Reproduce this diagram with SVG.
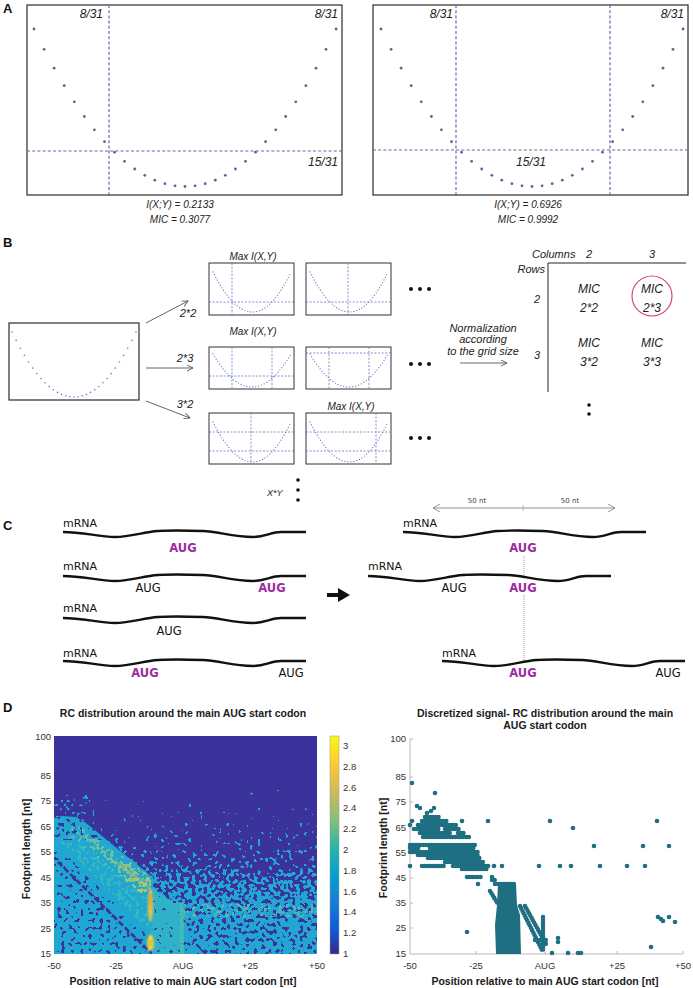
<svg xmlns="http://www.w3.org/2000/svg" width="693" height="988" viewBox="0 0 693 988">
<style>
.box{fill:#fff;stroke:#2b2b2b;stroke-width:1.2}
.sbox{fill:#fff;stroke:#333;stroke-width:1}
.dA circle{fill:#50689e}
.dB circle{fill:#6b7ac4}
.dashA{stroke:#7c5fa4;stroke-width:1.2;stroke-dasharray:3 2.2;fill:none}
.dashB{stroke:#6a6fc0;stroke-width:0.8;stroke-dasharray:2 1.6;fill:none}
.pb{fill:none;stroke:#6d7ccc;stroke-width:1.3;stroke-linecap:round;stroke-dasharray:0 3}
.it{font-family:"Liberation Sans",Arial,sans-serif;font-style:italic;fill:#222}
.pl{font-family:"Liberation Sans",Arial,sans-serif;font-weight:bold;font-size:13px;fill:#111}
.arr{stroke:#555;stroke-width:0.9;fill:none;marker-end:url(#ah)}
.wave{fill:none;stroke:#111;stroke-width:2.3}
.cm{font-family:"DejaVu Sans",sans-serif;font-size:11px;fill:#111}
.aug{font-family:"DejaVu Sans",sans-serif;font-size:11.5px;fill:#111}
.pu{font-weight:bold;fill:#9d2d9f}
.tk{font-family:"Liberation Sans",Arial,sans-serif;font-size:9.5px;fill:#333}
.ttl{font-family:"Liberation Sans",Arial,sans-serif;font-weight:bold;font-size:10.5px;fill:#1a1a1a}
.sd circle{fill:#1f6f82}
.sb{stroke:#1f6f82;stroke-width:4.6;stroke-linecap:round;stroke-dasharray:0 2.7;fill:none}
.dot{fill:#111}
</style>
<defs>
<marker id="ah" markerWidth="8" markerHeight="8" refX="6" refY="3" orient="auto" markerUnits="userSpaceOnUse">
<path d="M0,0 L6,3 L0,6" fill="none" stroke="#555" stroke-width="0.9"/>
</marker>
<marker id="ah2" markerWidth="10" markerHeight="10" refX="7" refY="4" orient="auto-start-reverse" markerUnits="userSpaceOnUse">
<path d="M0,0 L7,4 L0,8" fill="none" stroke="#777" stroke-width="0.8"/>
</marker>
<g id="parab" class="dA">
<circle cx="34" cy="29" r="1.4"/><circle cx="44.1" cy="49.3" r="1.4"/><circle cx="54.1" cy="68.2" r="1.4"/><circle cx="64.2" cy="85.7" r="1.4"/><circle cx="74.3" cy="101.8" r="1.4"/><circle cx="84.4" cy="116.5" r="1.4"/><circle cx="94.4" cy="129.8" r="1.4"/><circle cx="104.5" cy="141.7" r="1.4"/><circle cx="114.6" cy="152.2" r="1.4"/><circle cx="124.6" cy="161.3" r="1.4"/><circle cx="134.7" cy="169" r="1.4"/><circle cx="144.8" cy="175.3" r="1.4"/><circle cx="154.8" cy="180.2" r="1.4"/><circle cx="164.9" cy="183.7" r="1.4"/><circle cx="175" cy="185.8" r="1.4"/><circle cx="185" cy="186.5" r="1.4"/><circle cx="195.1" cy="185.8" r="1.4"/><circle cx="205.2" cy="183.7" r="1.4"/><circle cx="215.3" cy="180.2" r="1.4"/><circle cx="225.3" cy="175.3" r="1.4"/><circle cx="235.4" cy="169" r="1.4"/><circle cx="245.5" cy="161.3" r="1.4"/><circle cx="255.5" cy="152.2" r="1.4"/><circle cx="265.6" cy="141.7" r="1.4"/><circle cx="275.7" cy="129.8" r="1.4"/><circle cx="285.7" cy="116.5" r="1.4"/><circle cx="295.8" cy="101.8" r="1.4"/><circle cx="305.9" cy="85.7" r="1.4"/><circle cx="316" cy="68.2" r="1.4"/><circle cx="326" cy="49.3" r="1.4"/><circle cx="336.1" cy="29" r="1.4"/>
</g>
<path id="pb52" class="pb" d="M4,9 Q44,89 82,9"/>
<path id="pb42" class="pb" d="M4,7 Q43,73 82,7"/>
<path id="wave" class="wave" d="M0,0 C20,0 36,5 52,5 C68,5 80,0 95,-1 C110,-2 125,-1.5 140,-1 C155,-0.5 170,5 190,5 C202,5 208,0 218,0 L243,0"/>
<linearGradient id="parula" x1="0" y1="1" x2="0" y2="0">
<stop offset="0" stop-color="#352a87"/><stop offset="0.12" stop-color="#0f5cdd"/><stop offset="0.25" stop-color="#1481d6"/><stop offset="0.38" stop-color="#06a4ca"/><stop offset="0.5" stop-color="#2eb7a4"/><stop offset="0.62" stop-color="#87bf77"/><stop offset="0.75" stop-color="#d1bb59"/><stop offset="0.87" stop-color="#fec832"/><stop offset="1" stop-color="#f9fb0e"/>
</linearGradient>
<linearGradient id="dens" gradientUnits="userSpaceOnUse" x1="0" y1="736" x2="0" y2="954">
<stop offset="0" stop-color="#22a6d2" stop-opacity="0"/>
<stop offset="0.2" stop-color="#22a6d2" stop-opacity="0.05"/>
<stop offset="0.25" stop-color="#22a6d2" stop-opacity="0.23"/>
<stop offset="0.36" stop-color="#22a6d2" stop-opacity="0.28"/>
<stop offset="0.48" stop-color="#22a6d2" stop-opacity="0.34"/>
<stop offset="0.59" stop-color="#22a6d2" stop-opacity="0.41"/>
<stop offset="0.68" stop-color="#22a6d2" stop-opacity="0.5"/>
<stop offset="0.78" stop-color="#22a6d2" stop-opacity="0.56"/>
<stop offset="1" stop-color="#22a6d2" stop-opacity="0.58"/>
</linearGradient>
<linearGradient id="bandG" gradientUnits="userSpaceOnUse" x1="60" y1="828" x2="153" y2="894">
<stop offset="0" stop-color="#4cbab4" stop-opacity="0.46"/>
<stop offset="0.6" stop-color="#7ac38c" stop-opacity="0.46"/>
<stop offset="1" stop-color="#b8c662" stop-opacity="0.5"/>
</linearGradient>
<filter id="nz1" filterUnits="userSpaceOnUse" x="54" y="736" width="263" height="218" color-interpolation-filters="sRGB">
<feTurbulence type="fractalNoise" baseFrequency="0.26" numOctaves="1" seed="7" result="n"/>
<feColorMatrix in="n" type="matrix" values="0 0 0 0 0  0 0 0 0 0  0 0 0 0 0  1 0 0 0 0" result="na"/>
<feComposite in="na" in2="SourceAlpha" operator="arithmetic" k2="0.5" k3="0.5" result="s"/>
<feComponentTransfer in="s" result="t"><feFuncA type="discrete" tableValues="0 1"/></feComponentTransfer>
<feColorMatrix in="SourceGraphic" type="matrix" values="1 0 0 0 0  0 1 0 0 0  0 0 1 0 0  0 0 0 0 1" result="c"/>
<feComposite in="c" in2="t" operator="in"/>
</filter>
<filter id="nz2" filterUnits="userSpaceOnUse" x="54" y="736" width="263" height="218" color-interpolation-filters="sRGB">
<feTurbulence type="fractalNoise" baseFrequency="0.26" numOctaves="1" seed="23" result="n"/>
<feColorMatrix in="n" type="matrix" values="0 0 0 0 0  0 0 0 0 0  0 0 0 0 0  1 0 0 0 0" result="na"/>
<feComposite in="na" in2="SourceAlpha" operator="arithmetic" k2="0.5" k3="0.5" result="s"/>
<feComponentTransfer in="s" result="t"><feFuncA type="discrete" tableValues="0 1"/></feComponentTransfer>
<feColorMatrix in="SourceGraphic" type="matrix" values="1 0 0 0 0  0 1 0 0 0  0 0 1 0 0  0 0 0 0 1" result="c"/>
<feComposite in="c" in2="t" operator="in"/>
</filter>
<filter id="nz3" filterUnits="userSpaceOnUse" x="54" y="736" width="263" height="218" color-interpolation-filters="sRGB">
<feTurbulence type="fractalNoise" baseFrequency="0.28" numOctaves="1" seed="51" result="n"/>
<feColorMatrix in="n" type="matrix" values="0 0 0 0 0  0 0 0 0 0  0 0 0 0 0  1 0 0 0 0" result="na"/>
<feComposite in="na" in2="SourceAlpha" operator="arithmetic" k2="0.5" k3="0.5" result="s"/>
<feComponentTransfer in="s" result="t"><feFuncA type="discrete" tableValues="0 1"/></feComponentTransfer>
<feColorMatrix in="SourceGraphic" type="matrix" values="1 0 0 0 0  0 1 0 0 0  0 0 1 0 0  0 0 0 0 1" result="c"/>
<feComposite in="c" in2="t" operator="in"/>
</filter>
<filter id="bl" x="-50%" y="-50%" width="200%" height="200%"><feGaussianBlur stdDeviation="0.8"/></filter>
</defs>
<rect width="693" height="988" fill="#fff"/>

<!-- Panel A -->
<g id="panelA">
<text class="pl" x="3" y="13">A</text>
<g id="A-left">
<rect class="box" x="27" y="5" width="315" height="190"/>
<use href="#parab"/>
<line class="dashA" x1="109" y1="5" x2="109" y2="195"/>
<line class="dashA" x1="27" y1="151" x2="342" y2="151"/>
<text class="it" font-size="12" x="103" y="18" text-anchor="end">8/31</text>
<text class="it" font-size="12" x="338" y="18" text-anchor="end">8/31</text>
<text class="it" font-size="12" x="338" y="166" text-anchor="end">15/31</text>
<text class="it" font-size="10" x="180" y="208" text-anchor="middle">I(X;Y) = 0.2133</text>
<text class="it" font-size="10" x="180" y="223" text-anchor="middle">MIC = 0.3077</text>
</g>
<g id="A-right">
<rect class="box" x="373" y="5" width="315" height="190"/>
<use href="#parab" transform="translate(347,0)"/>
<line class="dashA" x1="456" y1="5" x2="456" y2="195"/>
<line class="dashA" x1="610" y1="5" x2="610" y2="195"/>
<line class="dashA" x1="373" y1="150" x2="688" y2="150"/>
<text class="it" font-size="12" x="453" y="18" text-anchor="end">8/31</text>
<text class="it" font-size="12" x="684" y="18" text-anchor="end">8/31</text>
<text class="it" font-size="12" x="531" y="166" text-anchor="middle">15/31</text>
<text class="it" font-size="10" x="528" y="208" text-anchor="middle">I(X;Y) = 0.6926</text>
<text class="it" font-size="10" x="528" y="223" text-anchor="middle">MIC = 0.9992</text>
</g>
</g>

<!-- Panel B -->
<g id="panelB">
<text class="pl" x="3" y="247">B</text>
<g id="B-source">
<rect class="box" x="9" y="323" width="130" height="77"/>
<g class="dB">
<circle cx="12" cy="332" r="0.8"/><circle cx="16.1" cy="340.4" r="0.8"/><circle cx="20.3" cy="348.2" r="0.8"/><circle cx="24.4" cy="355.4" r="0.8"/><circle cx="28.5" cy="362" r="0.8"/><circle cx="32.7" cy="368.1" r="0.8"/><circle cx="36.8" cy="373.6" r="0.8"/><circle cx="40.9" cy="378.5" r="0.8"/><circle cx="45.1" cy="382.8" r="0.8"/><circle cx="49.2" cy="386.6" r="0.8"/><circle cx="53.3" cy="389.8" r="0.8"/><circle cx="57.5" cy="392.4" r="0.8"/><circle cx="61.6" cy="394.4" r="0.8"/><circle cx="65.7" cy="395.8" r="0.8"/><circle cx="69.9" cy="396.7" r="0.8"/><circle cx="74" cy="397" r="0.8"/><circle cx="78.1" cy="396.7" r="0.8"/><circle cx="82.3" cy="395.8" r="0.8"/><circle cx="86.4" cy="394.4" r="0.8"/><circle cx="90.5" cy="392.4" r="0.8"/><circle cx="94.7" cy="389.8" r="0.8"/><circle cx="98.8" cy="386.6" r="0.8"/><circle cx="102.9" cy="382.8" r="0.8"/><circle cx="107.1" cy="378.5" r="0.8"/><circle cx="111.2" cy="373.6" r="0.8"/><circle cx="115.3" cy="368.1" r="0.8"/><circle cx="119.5" cy="362" r="0.8"/><circle cx="123.6" cy="355.4" r="0.8"/><circle cx="127.7" cy="348.2" r="0.8"/><circle cx="131.9" cy="340.4" r="0.8"/><circle cx="136" cy="332" r="0.8"/>
</g>
</g>
<g id="B-connectors">
<line class="arr" x1="146" y1="323" x2="188" y2="301"/>
<line class="arr" x1="146" y1="368" x2="193" y2="368"/>
<line class="arr" x1="146" y1="401" x2="190" y2="418"/>
<line class="arr" x1="460" y1="363" x2="507" y2="363"/>
</g>
<text class="it" font-size="11" x="188" y="317" text-anchor="middle">2*2</text>
<text class="it" font-size="11" x="185" y="362" text-anchor="middle">2*3</text>
<text class="it" font-size="11" x="185" y="408" text-anchor="middle">3*2</text>
<g id="B-grid-r1c1">
<rect class="sbox" x="209" y="263" width="85" height="52"/>
<use href="#pb52" x="209" y="263"/>
<line class="dashB" x1="232" y1="263" x2="232" y2="315"/>
<line class="dashB" x1="209" y1="302" x2="294" y2="302"/>
<text class="it" font-size="10" x="253" y="260" text-anchor="middle">Max I(X,Y)</text>
</g>
<g id="B-grid-r1c2">
<rect class="sbox" x="306" y="263" width="85" height="52"/>
<use href="#pb52" x="306" y="263"/>
<line class="dashB" x1="348" y1="263" x2="348" y2="315"/>
<line class="dashB" x1="306" y1="302" x2="391" y2="302"/>
</g>
<g id="B-grid-r2c1">
<rect class="sbox" x="209" y="347" width="85" height="42"/>
<use href="#pb42" x="209" y="347"/>
<line class="dashB" x1="232" y1="347" x2="232" y2="389"/>
<line class="dashB" x1="272" y1="347" x2="272" y2="389"/>
<line class="dashB" x1="209" y1="376" x2="294" y2="376"/>
<text class="it" font-size="10" x="253" y="335" text-anchor="middle">Max I(X,Y)</text>
</g>
<g id="B-grid-r2c2">
<rect class="sbox" x="306" y="347" width="85" height="42"/>
<use href="#pb42" x="306" y="347"/>
<line class="dashB" x1="329" y1="347" x2="329" y2="389"/>
<line class="dashB" x1="369" y1="347" x2="369" y2="389"/>
<line class="dashB" x1="306" y1="353" x2="391" y2="353"/>
</g>
<g id="B-grid-r3c1">
<rect class="sbox" x="209" y="413" width="85" height="51"/>
<use href="#pb52" x="209" y="413"/>
<line class="dashB" x1="251" y1="413" x2="251" y2="464"/>
<line class="dashB" x1="209" y1="432" x2="294" y2="432"/>
<line class="dashB" x1="209" y1="451" x2="294" y2="451"/>
</g>
<g id="B-grid-r3c2">
<rect class="sbox" x="306" y="413" width="85" height="51"/>
<use href="#pb52" x="306" y="413"/>
<line class="dashB" x1="376" y1="413" x2="376" y2="464"/>
<line class="dashB" x1="306" y1="432" x2="391" y2="432"/>
<line class="dashB" x1="306" y1="451" x2="391" y2="451"/>
<text class="it" font-size="10" x="351" y="410" text-anchor="middle">Max I(X,Y)</text>
</g>
<g id="B-ellipses">
<circle class="dot" cx="411" cy="289" r="2"/><circle class="dot" cx="420" cy="289" r="2"/><circle class="dot" cx="429" cy="289" r="2"/>
<circle class="dot" cx="411" cy="364" r="2"/><circle class="dot" cx="420" cy="364" r="2"/><circle class="dot" cx="429" cy="364" r="2"/>
<circle class="dot" cx="411" cy="438" r="2"/><circle class="dot" cx="420" cy="438" r="2"/><circle class="dot" cx="429" cy="438" r="2"/>
<circle class="dot" cx="298" cy="480" r="1.8"/><circle class="dot" cx="298" cy="490" r="1.8"/><circle class="dot" cx="298" cy="500" r="1.8"/>
<circle class="dot" cx="589" cy="405" r="1.8"/><circle class="dot" cx="589" cy="414" r="1.8"/>
</g>
<text class="it" font-size="9" x="267" y="496">X*Y</text>
<g id="B-norm">
<text class="it" font-size="11" x="483" y="332" text-anchor="middle">Normalization</text>
<text class="it" font-size="11" x="483" y="343" text-anchor="middle">according</text>
<text class="it" font-size="11" x="483" y="355" text-anchor="middle">to the grid size</text>
</g>
<g id="B-table">
<line x1="548" y1="263" x2="686" y2="263" stroke="#222" stroke-width="1"/>
<line x1="548" y1="263" x2="548" y2="392" stroke="#222" stroke-width="1"/>
<text class="it" font-size="11" x="532" y="258">Columns</text>
<text class="it" font-size="11" x="589" y="258" text-anchor="middle">2</text>
<text class="it" font-size="11" x="652" y="258" text-anchor="middle">3</text>
<text class="it" font-size="11" x="545" y="273" text-anchor="end">Rows</text>
<text class="it" font-size="11" x="537" y="303" text-anchor="middle">2</text>
<text class="it" font-size="11" x="537" y="359" text-anchor="middle">3</text>
<text class="it" font-size="12" x="589" y="293" text-anchor="middle">MIC</text>
<text class="it" font-size="12" x="589" y="312" text-anchor="middle">2*2</text>
<text class="it" font-size="12" x="652" y="293" text-anchor="middle">MIC</text>
<text class="it" font-size="12" x="652" y="312" text-anchor="middle">2*3</text>
<circle cx="652" cy="296" r="20" fill="none" stroke="#d4486c" stroke-width="1.2"/>
<text class="it" font-size="12" x="589" y="347" text-anchor="middle">MIC</text>
<text class="it" font-size="12" x="589" y="366" text-anchor="middle">3*2</text>
<text class="it" font-size="12" x="652" y="347" text-anchor="middle">MIC</text>
<text class="it" font-size="12" x="652" y="366" text-anchor="middle">3*3</text>
</g>
</g>

<!-- Panel C -->
<g id="panelC">
<text class="pl" x="3" y="530">C</text>
<g id="C-left">
<text class="cm" x="63" y="527">mRNA</text>
<use href="#wave" x="63" y="532"/>
<text class="aug pu" x="183" y="552" text-anchor="middle">AUG</text>
<text class="cm" x="63" y="570">mRNA</text>
<use href="#wave" x="63" y="576"/>
<text class="aug" x="148" y="592" text-anchor="middle">AUG</text>
<text class="aug pu" x="272" y="592" text-anchor="middle">AUG</text>
<text class="cm" x="63" y="612">mRNA</text>
<use href="#wave" x="63" y="618"/>
<text class="aug" x="169" y="635" text-anchor="middle">AUG</text>
<text class="cm" x="63" y="657">mRNA</text>
<use href="#wave" x="63" y="661"/>
<text class="aug pu" x="145" y="677" text-anchor="middle">AUG</text>
<text class="aug" x="291" y="677" text-anchor="middle">AUG</text>
</g>
<path d="M327,593 L338,593 L338,588 L350,595 L338,602 L338,597 L327,597 Z" fill="#111"/>
<g id="C-right">
<line x1="433" y1="508" x2="615" y2="508" stroke="#777" stroke-width="0.8" marker-start="url(#ah2)" marker-end="url(#ah2)"/>
<line x1="523" y1="505" x2="523" y2="511" stroke="#999" stroke-width="0.6"/>
<text x="477" y="503" text-anchor="middle" font-family="DejaVu Sans, sans-serif" font-size="7" fill="#444">50 nt</text>
<text x="570" y="503" text-anchor="middle" font-family="DejaVu Sans, sans-serif" font-size="7" fill="#444">50 nt</text>
<text class="cm" x="403" y="527">mRNA</text>
<use href="#wave" x="403" y="532"/>
<text class="aug pu" x="523" y="552" text-anchor="middle">AUG</text>
<text class="cm" x="368" y="570">mRNA</text>
<use href="#wave" x="368" y="576"/>
<text class="aug" x="454" y="592" text-anchor="middle">AUG</text>
<text class="aug pu" x="523" y="592" text-anchor="middle">AUG</text>
<text class="cm" x="442" y="657">mRNA</text>
<use href="#wave" x="442" y="661"/>
<text class="aug pu" x="523" y="677" text-anchor="middle">AUG</text>
<text class="aug" x="668" y="677" text-anchor="middle">AUG</text>
<line x1="524" y1="556" x2="524" y2="576" stroke="#777" stroke-width="0.7" stroke-dasharray="1 1"/>
<line x1="524" y1="595" x2="524" y2="661" stroke="#777" stroke-width="0.7" stroke-dasharray="1 1"/>
</g>
</g>

<!-- Panel D -->
<g id="panelD">
<text class="pl" x="3" y="712">D</text>
<g id="D-heatmap">
<text class="ttl" x="183" y="717" text-anchor="middle">RC distribution around the main AUG start codon</text>
<rect x="54" y="736" width="263" height="218" fill="#3c329c"/>
<rect x="54" y="736" width="263" height="218" fill="url(#dens)" filter="url(#nz1)"/>
<rect x="54" y="795" width="40" height="24" fill="#22a6d2" fill-opacity="0.36" filter="url(#nz2)"/>
<polygon points="153,888 168,899 183,903 183,954 153,954" fill="#2fb2c8"/>
<polygon points="153,888 168,899 183,903 183,954 153,954" fill="#3c329c" fill-opacity="0.3" filter="url(#nz2)"/>
<rect x="180" y="903" width="4" height="51" fill="#55c2a8" opacity="0.6"/>
<rect x="184" y="904" width="133" height="13" fill="#4cbdaf" fill-opacity="0.42" filter="url(#nz3)"/>
<polygon points="54,818 62,816 76,817 86,823 150,875 153,876 153,954 54,954" fill="#1fa7d2"/>
<polygon points="54,818 62,816 76,817 86,823 106,840 54,840" fill="#3c329c" fill-opacity="0.38" filter="url(#nz2)"/>
<polygon points="58,852 70,858 152,940 152,954 54,954 54,852" fill="#3c329c" fill-opacity="0.37" filter="url(#nz2)"/>
<polygon points="58,840 72,836 153,898 153,935" fill="#34b8c2" fill-opacity="0.45" filter="url(#nz3)"/>
<polygon points="60,828 80,826 150,876 153,894 140,893" fill="url(#bandG)" filter="url(#nz3)"/>
<line x1="58" y1="862" x2="151" y2="953" stroke="#3c329c" stroke-width="2.6" stroke-dasharray="6 2.5"/>
<g filter="url(#bl)">
<line x1="118" y1="864" x2="149" y2="887" stroke="#d8cc56" stroke-width="2.2" opacity="0.7"/>
<ellipse cx="150.5" cy="905" rx="2.4" ry="17" fill="#f3c33c"/>
<ellipse cx="150.5" cy="900" rx="1.3" ry="8" fill="#f2a232"/>
<ellipse cx="150.5" cy="943" rx="3.2" ry="8.5" fill="#fbe02c"/>
<ellipse cx="150.5" cy="943" rx="1.6" ry="4" fill="#f4b233"/>
</g>
<rect x="330" y="736" width="9" height="218" fill="url(#parula)" stroke="#999" stroke-width="0.5"/>
<g class="tk" font-size="8.5">
<text x="343" y="749">3</text><text x="343" y="770">2.8</text><text x="343" y="791">2.6</text><text x="343" y="811">2.4</text><text x="343" y="832">2.2</text><text x="343" y="853">2</text><text x="343" y="874">1.8</text><text x="343" y="895">1.6</text><text x="343" y="915">1.4</text><text x="343" y="936">1.2</text><text x="343" y="957">1</text>
</g>
<g class="tk" text-anchor="end">
<text x="51" y="740">100</text><text x="51" y="779">85</text><text x="51" y="804">75</text><text x="51" y="830">65</text><text x="51" y="855">55</text><text x="51" y="881">45</text><text x="51" y="906">35</text><text x="51" y="932">25</text><text x="51" y="957">15</text>
</g>
<g class="tk" text-anchor="middle">
<text x="54" y="969">-50</text><text x="116" y="969">-25</text><text x="183" y="969">AUG</text><text x="250" y="969">+25</text><text x="317" y="969">+50</text>
</g>
<text class="ttl" x="183" y="985" text-anchor="middle" font-size="10">Position relative to main AUG start codon [nt]</text>
<text class="ttl" font-size="10" text-anchor="middle" transform="translate(30,849) rotate(-90)">Footprint length [nt]</text>
</g>

<g id="D-scatter">
<text class="ttl" x="545" y="717" text-anchor="middle">Discretized signal- RC distribution around the main</text>
<text class="ttl" x="545" y="729" text-anchor="middle">AUG start codon</text>
<line x1="410" y1="739" x2="410" y2="954" stroke="#aaa" stroke-width="0.8"/>
<line x1="410" y1="954" x2="683" y2="954" stroke="#aaa" stroke-width="0.8"/>
<g stroke="#aaa" stroke-width="0.8">
<line x1="410" y1="739" x2="413" y2="739"/><line x1="410" y1="777" x2="413" y2="777"/><line x1="410" y1="802" x2="413" y2="802"/><line x1="410" y1="828" x2="413" y2="828"/><line x1="410" y1="853" x2="413" y2="853"/><line x1="410" y1="878" x2="413" y2="878"/><line x1="410" y1="903" x2="413" y2="903"/><line x1="410" y1="928" x2="413" y2="928"/>
<line x1="476" y1="954" x2="476" y2="951"/><line x1="545" y1="954" x2="545" y2="951"/><line x1="617" y1="954" x2="617" y2="951"/><line x1="683" y1="954" x2="683" y2="951"/>
</g>
<g class="tk" text-anchor="end">
<text x="406" y="742">100</text><text x="406" y="780">85</text><text x="406" y="805">75</text><text x="406" y="831">65</text><text x="406" y="856">55</text><text x="406" y="881">45</text><text x="406" y="906">35</text><text x="406" y="931">25</text><text x="406" y="957">15</text>
</g>
<g class="tk" text-anchor="middle">
<text x="410" y="969">-50</text><text x="476" y="969">-25</text><text x="545" y="969">AUG</text><text x="617" y="969">+25</text><text x="683" y="969">+50</text>
</g>
<text class="ttl" x="545" y="985" text-anchor="middle" font-size="10">Position relative to main AUG start codon [nt]</text>
<text class="ttl" font-size="10" text-anchor="middle" transform="translate(387,848) rotate(-90)">Footprint length [nt]</text>
<g class="sb">
<line x1="425" y1="817" x2="440" y2="817"/>
<line x1="422" y1="821" x2="448" y2="821"/>
<line x1="418" y1="825" x2="456" y2="825"/>
<line x1="414" y1="829" x2="440" y2="829"/><line x1="445" y1="829" x2="460" y2="829"/>
<line x1="420" y1="833" x2="452" y2="833"/><line x1="458" y1="833" x2="466" y2="833"/>
<line x1="423" y1="837" x2="470" y2="837"/>
<line x1="410" y1="845" x2="477" y2="845"/>
<line x1="410" y1="848" x2="420" y2="848"/><line x1="430" y1="848" x2="475" y2="848"/>
<line x1="410" y1="852" x2="478" y2="852"/>
<line x1="418" y1="855" x2="480" y2="855"/>
<line x1="428" y1="858" x2="480" y2="858"/>
<line x1="445" y1="862" x2="483" y2="862"/>
<line x1="422" y1="866" x2="445" y2="866"/><line x1="453" y1="866" x2="490" y2="866"/>
<line x1="462" y1="869" x2="487" y2="869"/>
<line x1="467" y1="877" x2="483" y2="877"/>
<line x1="492" y1="880" x2="497" y2="880"/>
<line x1="495" y1="884" x2="515" y2="884"/>
<line x1="490" y1="891" x2="498" y2="904"/>
<line x1="520" y1="906" x2="542" y2="950"/>
<line x1="525" y1="906" x2="547" y2="946"/>
<line x1="543" y1="917" x2="543" y2="952"/>
<line x1="535" y1="940" x2="548" y2="940"/>
</g>
<polygon points="498,884 516,884 517,905 520,915 521,954 496,954 495,925 497,905" fill="#1f6f82"/>
<g class="sd">
<circle cx="412" cy="783" r="2.3"/><circle cx="435" cy="793" r="2.3"/><circle cx="417" cy="806" r="2.3"/><circle cx="420" cy="808" r="2.3"/><circle cx="427" cy="813" r="2.3"/><circle cx="431" cy="811" r="2.3"/><circle cx="434" cy="808" r="2.3"/>
<circle cx="462" cy="821" r="2.3"/><circle cx="488" cy="821" r="2.3"/><circle cx="410" cy="825" r="2.3"/><circle cx="412" cy="821" r="2.3"/>
<circle cx="410" cy="866" r="2.3"/><circle cx="494" cy="866" r="2.3"/><circle cx="502" cy="866" r="2.3"/><circle cx="492" cy="877" r="2.3"/><circle cx="478" cy="884" r="2.3"/>
<circle cx="467" cy="932" r="2.3"/>
<circle cx="550" cy="821" r="2.3"/><circle cx="573" cy="828" r="2.3"/><circle cx="539" cy="866" r="2.3"/><circle cx="560" cy="866" r="2.3"/><circle cx="571" cy="866" r="2.3"/><circle cx="594" cy="846" r="2.3"/><circle cx="600" cy="866" r="2.3"/><circle cx="627" cy="866" r="2.3"/><circle cx="643" cy="846" r="2.3"/><circle cx="645" cy="866" r="2.3"/><circle cx="657" cy="821" r="2.3"/><circle cx="669" cy="846" r="2.3"/>
<circle cx="651" cy="947" r="2.3"/><circle cx="658" cy="917" r="2.3"/><circle cx="661" cy="919" r="2.3"/><circle cx="663" cy="921" r="2.3"/><circle cx="669" cy="917" r="2.3"/><circle cx="675" cy="922" r="2.3"/>
<circle cx="552" cy="953" r="2.3"/><circle cx="558" cy="938" r="2.3"/><circle cx="558" cy="942" r="2.3"/><circle cx="568" cy="953" r="2.3"/><circle cx="578" cy="953" r="2.3"/><circle cx="581" cy="953" r="2.3"/>
</g>
</g>
</g>
</svg>
